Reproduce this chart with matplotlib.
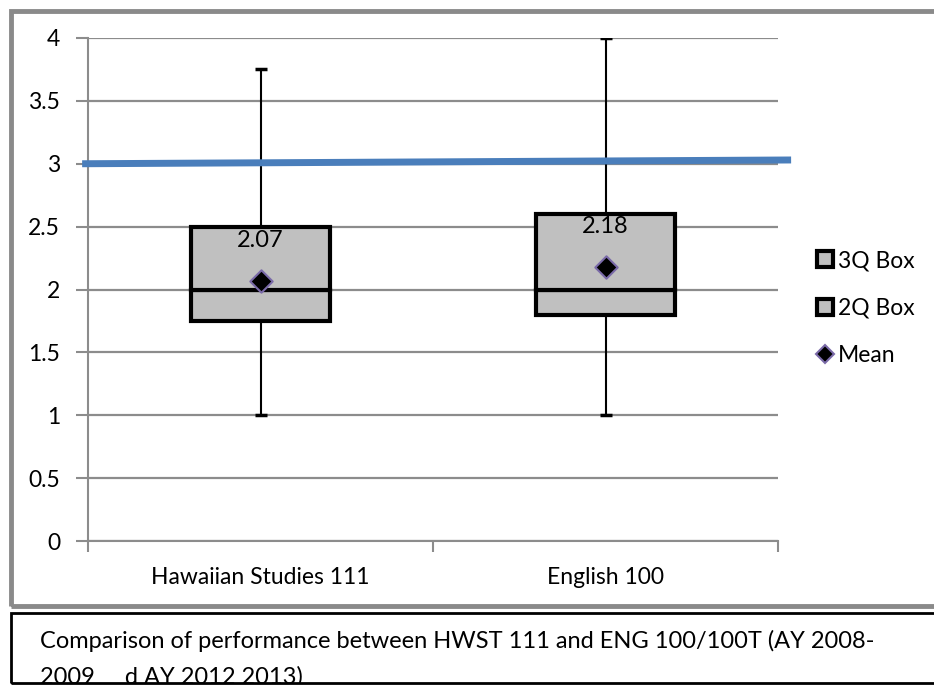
import matplotlib
matplotlib.use("Agg")
import matplotlib.pyplot as plt
from matplotlib.lines import Line2D
from matplotlib.patches import Rectangle

plt.rcParams["font.family"] = ["Lato", "DejaVu Sans"]

# data
categories = ["Hawaiian Studies 111", "English 100"]
whisker_low = [1.0, 1.0]
q1 = [1.75, 1.8]
median = [2.0, 2.0]
q3 = [2.5, 2.6]
whisker_high = [3.75, 4.0]
means = [2.07, 2.18]
target_x = [-0.517, 1.538]
target_y = [3.0, 3.03]
yticks = [0, 0.5, 1, 1.5, 2, 2.5, 3, 3.5, 4]
caption_lines = ["Comparison of performance between HWST 111 and ENG 100/100T (AY 2008-",
                 "2009     d AY 2012 2013)"]

W, H = 934, 685
fig = plt.figure(figsize=(W / 100, H / 100), dpi=100)


def fx(px):
    return px / W


def fy(py):
    return 1 - py / H


ax = fig.add_axes([fx(88), fy(541), fx(778) - fx(88), fy(38) - fy(541)])

xs = list(range(len(categories)))
box_w = 0.405
gray = "#c0c0c0"

# whiskers
lower_err = [m - lo for m, lo in zip(median, whisker_low)]
upper_err = [hi - m for m, hi in zip(median, whisker_high)]
ax.errorbar(xs, median, yerr=[lower_err, upper_err], fmt="none", ecolor="black",
            elinewidth=1.5, capsize=4, capthick=2.5, zorder=3)

# 2Q box (q1 -> median) and 3Q box (median -> q3)
ax.bar(xs, [m - a for m, a in zip(median, q1)], bottom=q1, width=box_w,
       color=gray, edgecolor="black", linewidth=3, zorder=4)
ax.bar(xs, [b - m for m, b in zip(median, q3)], bottom=median, width=box_w,
       color=gray, edgecolor="black", linewidth=3, zorder=4)

# means
ax.scatter(xs, means, marker="D", s=130, color="black", edgecolors="#7a6aa8",
           linewidths=1.5, zorder=6)
for x, m in zip(xs, means):
    ax.annotate(f"{m:.2f}", (x, m), xytext=(0, 29), textcoords="offset points",
                ha="center", va="center", fontsize=17, zorder=7)

# target line at 3
ax.plot(target_x, target_y, color="#4a7ebb", linewidth=5, solid_capstyle="butt",
        clip_on=False, zorder=5)

ax.set_xlim(-0.5, 1.5)
ax.set_ylim(0, 4)
ax.set_yticks(yticks)
ax.set_yticklabels([f"{t:g}" for t in yticks])
ax.set_xticks([-0.5, 0.5, 1.5])
ax.set_xticklabels([])
ax.set_xticks(xs, minor=True)
ax.set_xticklabels(categories, minor=True)
ax.tick_params(axis="x", which="minor", length=0, pad=19, labelsize=16.5)
ax.tick_params(axis="x", which="major", length=8, width=1.5, color="#8c8c8c", direction="out")
ax.tick_params(axis="y", length=9, width=1.5, color="#8c8c8c", pad=11, labelsize=16.5)

ax.grid(axis="y", color="#8c8c8c", linewidth=1.6, zorder=0)
ax.set_axisbelow(True)
for side in ["top", "right"]:
    ax.spines[side].set_visible(False)
for side in ["left", "bottom"]:
    ax.spines[side].set_color("#8c8c8c")
    ax.spines[side].set_linewidth(1.5)

handles = [
    Line2D([], [], marker="s", linestyle="none", markersize=12, markerfacecolor=gray,
           markeredgecolor="black", markeredgewidth=3),
    Line2D([], [], marker="s", linestyle="none", markersize=12, markerfacecolor=gray,
           markeredgecolor="black", markeredgewidth=3),
    Line2D([], [], marker="D", linestyle="none", markersize=9, markerfacecolor="black",
           markeredgecolor="#7a6aa8", markeredgewidth=1.5),
]
fig.legend(handles, ["3Q Box", "2Q Box", "Mean"], loc="upper left",
           bbox_to_anchor=(fx(804), fy(239)), frameon=False, fontsize=16.5,
           handlelength=0.8, handletextpad=0.2, labelspacing=1.15, borderpad=0)

# outer chart frame and caption box
fig.patches.append(Rectangle((fx(11), fy(606)), fx(940) - fx(11), fy(11) - fy(606),
                             transform=fig.transFigure, fill=False,
                             edgecolor="#8a8a8a", linewidth=3.5))
fig.text(fx(40), fy(648), caption_lines[0], fontsize=17, va="baseline", ha="left")
fig.text(fx(40), fy(684), caption_lines[1], fontsize=17, va="baseline", ha="left")
fig.patches.append(Rectangle((0, 0), 1, fy(683), transform=fig.transFigure,
                             facecolor="white", edgecolor="none", zorder=10))
fig.patches.append(Rectangle((fx(11), fy(683)), fx(940) - fx(11), fy(613) - fy(683),
                             transform=fig.transFigure, fill=False,
                             edgecolor="black", linewidth=2, zorder=11))

fig.savefig("out.png", dpi=100)
